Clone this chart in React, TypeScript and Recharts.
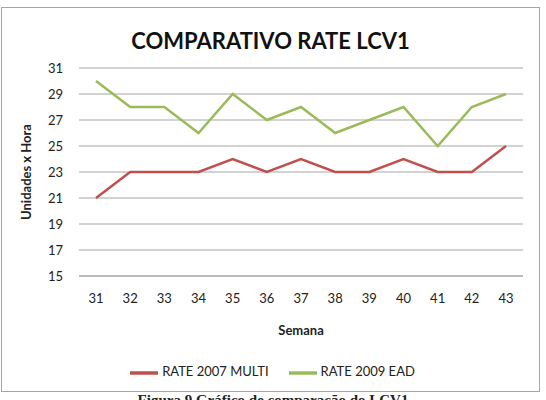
import * as React from "react";
import {
  CartesianGrid,
  Legend,
  Line,
  LineChart,
  XAxis,
  YAxis,
} from "recharts";

const semanas = ["31", "32", "33", "34", "35", "36", "37", "38", "39", "40", "41", "42", "43"];
const rate2007Multi = [21, 23, 23, 23, 24, 23, 24, 23, 23, 24, 23, 23, 25];
const rate2009Ead = [30, 28, 28, 26, 29, 27, 28, 26, 27, 28, 25, 28, 29];
const yTicks = [15, 17, 19, 21, 23, 25, 27, 29, 31];

const data = semanas.map((s, i) => ({
  semana: s,
  multi: rate2007Multi[i],
  ead: rate2009Ead[i],
}));

const font = "Lato, 'Open Sans', sans-serif";

export default function App() {
  return (
    <div
      style={{
        position: "absolute",
        left: 0,
        top: 0,
        width: 546,
        height: 400,
        background: "#fff",
        overflow: "hidden",
        fontFamily: font,
      }}
    >
      <div
        style={{
          position: "absolute",
          left: 1,
          top: 7,
          width: 537,
          height: 383,
          border: "1px solid #a6a6a6",
          background: "#fff",
        }}
      >
        <div
          style={{
            position: "absolute",
            left: 0,
            width: "100%",
            top: 19,
            textAlign: "center",
            fontWeight: 700,
            fontSize: 22,
            color: "#111",
          }}
        >
          COMPARATIVO RATE LCV1
        </div>
        <LineChart
          width={537}
          height={383}
          data={data}
          margin={{ top: 60, right: 16, left: 0, bottom: 12 }}
          style={{ fontFamily: font }}
        >
          <CartesianGrid stroke="#a6a6a6" vertical={false} />
          <XAxis
            dataKey="semana"
            padding={{ left: 17, right: 17 }}
            axisLine={{ stroke: "#a6a6a6" }}
            tickLine={false}
            tickSize={0}
            tickMargin={18}
            height={83}
            tick={{ fill: "#222", fontSize: 13 }}
            label={{
              value: "Semana",
              position: "insideBottom",
              offset: 24,
              fill: "#222",
              fontSize: 13,
              fontWeight: 700,
            }}
          />
          <YAxis
            domain={[15, 31]}
            ticks={yTicks}
            axisLine={false}
            tickLine={false}
            tickSize={0}
            tickMargin={16}
            width={77}
            tick={{ fill: "#222", fontSize: 13 }}
            label={{
              value: "Unidades x Hora",
              angle: -90,
              position: "insideLeft",
              offset: 24,
              fill: "#222",
              fontSize: 13,
              fontWeight: 700,
              style: { textAnchor: "middle" },
            }}
          />
          <Legend
            verticalAlign="bottom"
            align="center"
            iconType="plainline"
            iconSize={28}
            wrapperStyle={{ height: 20, fontSize: 13, color: "#222", paddingLeft: 20 }}
            formatter={(value: string) => (
              <span style={{ color: "#222", marginRight: 10 }}>{value}</span>
            )}
          />
          <Line
            type="linear"
            dataKey="multi"
            name="RATE 2007 MULTI"
            stroke="#c0504d"
            strokeWidth={2.5}
            dot={false}
            isAnimationActive={false}
          />
          <Line
            type="linear"
            dataKey="ead"
            name="RATE 2009 EAD"
            stroke="#9bbb59"
            strokeWidth={2.5}
            dot={false}
            isAnimationActive={false}
          />
        </LineChart>
      </div>
      <div
        style={{
          position: "absolute",
          left: 0,
          width: 546,
          top: 392,
          textAlign: "center",
          fontFamily: "'Liberation Serif', serif",
          fontWeight: 700,
          fontSize: 15,
          color: "#222",
        }}
      >
        Figura 9 Gráfico de comparação do LCV1
      </div>
    </div>
  );
}
